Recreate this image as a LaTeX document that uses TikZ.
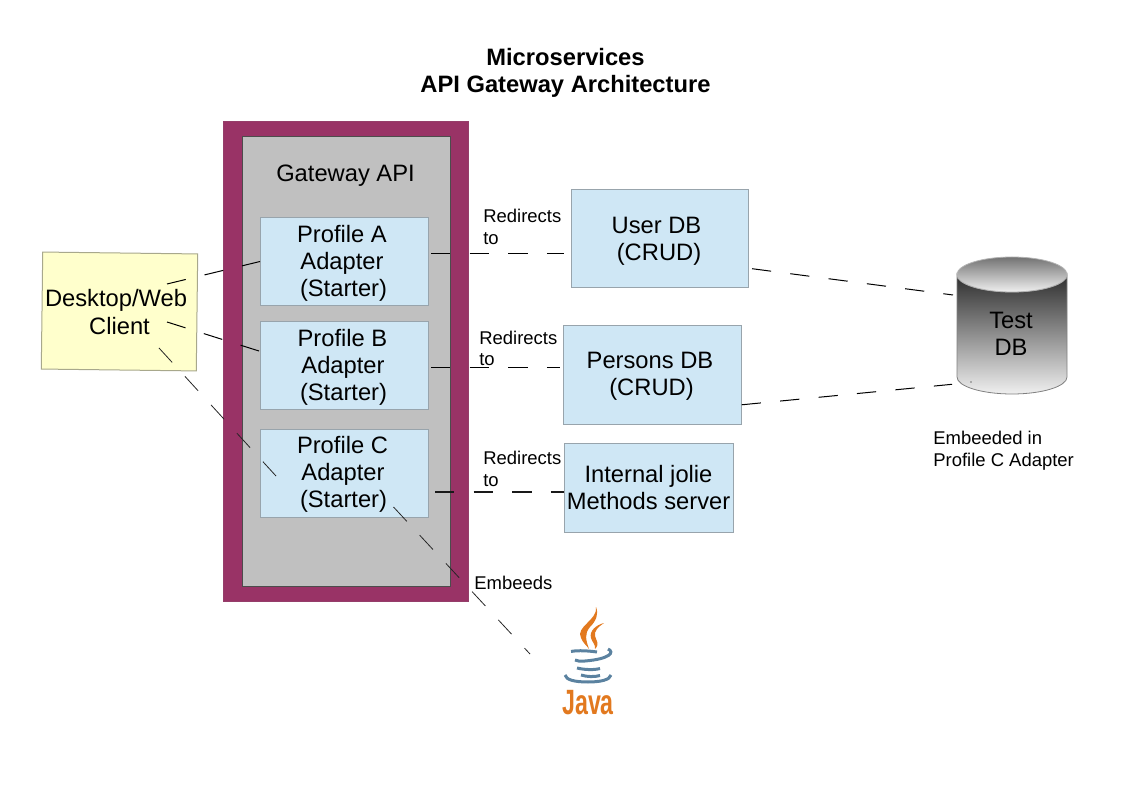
\documentclass[tikz,border=0pt]{standalone}
\usepackage{fontspec}
\setmainfont{Liberation Sans}
\usetikzlibrary{arrows}

\definecolor{gatewayred}{HTML}{993366}
\definecolor{gatewaygray}{HTML}{C0C0C0}
\definecolor{boxblue}{HTML}{CFE7F5}
\definecolor{boxline}{HTML}{98A4AC}
\definecolor{clientyellow}{HTML}{FFFFCC}
\definecolor{clientline}{HTML}{A8A88C}
\definecolor{javablue}{HTML}{5B82A0}
\definecolor{javaorange}{HTML}{E2791F}

\begin{document}
\begin{tikzpicture}[x=.2mm,y=-.2mm,
        box/.style={rectangle,draw=boxline,fill=boxblue,line width=.2mm,inner sep=0},
        big/.style={inner sep=0,align=center,font=\fontsize{13.5}{15.4}\selectfont},
        note/.style={inner sep=0,align=left,anchor=west,font=\fontsize{10.5}{12.3}\selectfont},
        link/.style={draw=black,line width=.2mm,dash pattern=on 3.86mm off 3.86mm},
        thick link/.style={draw=black!90,line width=.4mm,dash pattern=on 3.86mm off 3.86mm},
        thin link/.style={draw=black!85,line width=.16mm,dash pattern=on 3.9mm off 3.8mm}]

  \useasboundingbox (0,0) rectangle (1123,794);

  \node[big,font=\fontsize{13.5}{15.4}\selectfont\bfseries] (title) at (565.5,72.5) {Microservices\\API Gateway Architecture};

  % gateway
  \node[rectangle,fill=gatewayred,draw=gatewayred!85!gray,line width=.2mm,inner sep=0,
        minimum width=49mm,minimum height=95.8mm] (gateway) at (346.2,361.5) {};
  \node[rectangle,fill=gatewaygray,draw=black!70,line width=.2mm,inner sep=0,
        minimum width=41.6mm,minimum height=89.8mm] (inner) at (346.2,361.5) {};
  \node[big] (api) at (345.5,175.5) {Gateway API};

  \node[box,minimum width=33.6mm,minimum height=17.6mm] (profA) at (344.5,261.5) {};
  \node[box,minimum width=33.6mm,minimum height=17.6mm] (profB) at (344.5,365.5) {};
  \node[box,minimum width=33.6mm,minimum height=17.6mm] (profC) at (344.5,473.5) {};
  \node[big] (textA) at (342,263) {Profile A\\Adapter\hspace{1.2mm}\\\hspace{.6mm}(Starter)};
  \node[big] (textB) at (342.5,367) {Profile B\hspace{1.6mm}\\\hspace{.2mm}Adapter\\\hspace{.4mm}(Starter)};
  \node[big] (textC) at (342.5,474.5) {Profile C\hspace{1.4mm}\\\hspace{.2mm}Adapter\\\hspace{.4mm}(Starter)};

  % client
  \node[rectangle,draw=clientline,fill=clientyellow,line width=.2mm,inner sep=0,
        rotate=-.7,minimum width=31mm,minimum height=23.4mm] (client) at (119.5,311.5) {};
  \node[big] (clienttext) at (116,312) {Desktop/Web\\\hspace{1.4mm}Client};

  % right side
  \node[box,minimum width=35.4mm,minimum height=19.6mm] (userdb) at (660,238.5) {};
  \node[big] (usertext) at (656.5,241) {User DB\hspace{1.4mm}\\\hspace{1mm}(CRUD)};
  \node[box,minimum width=35.6mm,minimum height=19.8mm] (persondb) at (652.5,375) {};
  \node[big] (persontext) at (650,376.5) {Persons DB\\\hspace{.6mm}(CRUD)};
  \node[box,minimum width=33.8mm,minimum height=17.8mm] (internal) at (649,488.2) {};
  \node[big] (internaltext) at (648.5,487.5) {Internal jolie\\Methods server};

  % test db
  \shade[top color=black!82,bottom color=black!6,draw=black!50,line width=.16mm]
    (957,275) -- (957,377) arc (180:0:55 and 17) -- (1067,275) arc (0:180:55 and 17) -- cycle;
  \shade[top color=black!55,bottom color=black!6,draw=black!30,line width=.16mm]
    (1012,274.5) ellipse (55 and 17.5);
  \node[big] (testdb) at (1011,333.5) {Test\\DB};
  \fill (971,382) circle (.6);

  \node[note] (redirA) at (483,227) {Redirects\\to};
  \node[note] (redirB) at (479,348.5) {Redirects\\to};
  \node[note] (redirC) at (483,469) {Redirects\\to};
  \node[note] (embeeds) at (474,583) {Embeeds};
  \node[note] (embeeded) at (933,450.5) {Embeeded in\\Profile C Adapter};

  % java logo
  \fill[javaorange] (596,607) .. controls (598,620) and (575,627) .. (581,638)
    .. controls (583,643) and (587,646) .. (589,649)
    .. controls (586,640) and (584,634) .. (590,627)
    .. controls (596,621) and (599,614) .. (596,607);
  \fill[javaorange] (604,623) .. controls (596,625) and (589,631) .. (591,638)
    .. controls (592,642) and (596,645) .. (595,649)
    .. controls (600,644) and (596,640) .. (595,636)
    .. controls (594,631) and (598,627) .. (604,623);
  \draw[javablue,line width=.6mm] (571,651.5) .. controls (578,650) and (590,651) .. (597,652);
  \draw[javablue,line width=.6mm] (608,649) .. controls (615,652) and (610,659) .. (585,661) .. controls (580,661.5) and (577,661) .. (575,660);
  \draw[javablue,line width=.6mm] (577,668) .. controls (585,670) and (595,670) .. (600,668.5);
  \draw[javablue,line width=.6mm] (581,675) .. controls (587,677) and (595,677) .. (600,675.5);
  \draw[javablue,line width=.6mm] (565,675) .. controls (566,680) and (575,682) .. (588,682) .. controls (600,682) and (610,680) .. (611,675);
  \node[inner sep=0,text=javaorange,transform shape,xscale=.66,font=\fontsize{20}{20}\selectfont\bfseries] (java) at (588,703) {Java};

  % connectors
  \coordinate (startA) at (167,284);
  \coordinate (startB) at (167,322);
  \coordinate (endB) at (259,351);
  \coordinate (startC) at (159,348);
  \coordinate (endC) at (276,476);
  \coordinate (outA) at (431,253.5);
  \coordinate (outB) at (431,367.5);
  \coordinate (outC) at (435,492);
  \coordinate (startJ) at (393.5,507);
  \coordinate (endJ) at (530,654);
  \coordinate (outU) at (752,268.7);
  \coordinate (inU) at (953,295);
  \coordinate (outP) at (741.7,404.8);
  \coordinate (inP) at (952,384.3);

  \path[link] (startA) edge (profA.west)
        (startB) edge (endB)
        (outA) edge [shorten >=1.4mm] (outA -| userdb.west)
        (outB) edge [shorten >=.6mm] (outB -| persondb.west)
        (outU) edge (inU)
        (outP) edge (inP);
  \draw[thick link] (outC) -- (outC -| internal.west);
  \path[thin link] (startC) edge (endC)
        (startJ) edge (endJ);

\end{tikzpicture}
\end{document}
